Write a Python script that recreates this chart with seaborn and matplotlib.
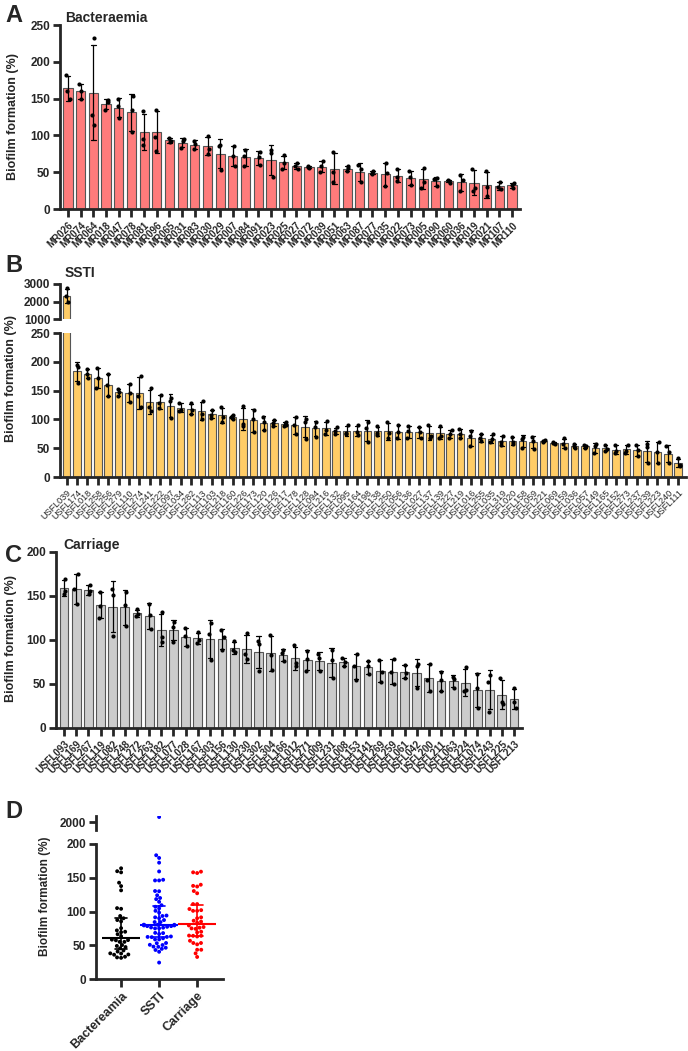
import numpy as np
import pandas as pd
import seaborn as sns
import matplotlib.pyplot as plt

sns.set_style("ticks")
plt.rcParams['font.family'] = ['Liberation Sans', 'DejaVu Sans']
plt.rcParams['font.weight'] = 'bold'
plt.rcParams['axes.labelweight'] = 'bold'

# ---- panel A: bacteraemia isolates, three replicates each
bact_names = ['MR026', 'MR074', 'MR064', 'MR018', 'MR047', 'MR078', 'MR081', 'MR096', 'MR065',
              'MR031', 'MR083', 'MR030', 'MR029', 'MR007', 'MR084', 'MR091', 'MR023', 'MR025',
              'MR027', 'MR072', 'MR039', 'MR051', 'MR063', 'MR087', 'MR077', 'MR035', 'MR022',
              'MR073', 'MR005', 'MR090', 'MR060', 'MR036', 'MR019', 'MR021', 'MR107', 'MR110']
bact_reps = [[182, 161, 149], [170, 160, 149], [232, 128, 114], [148, 145, 135], [149, 140, 124],
             [154, 135, 105], [133, 95, 87], [135, 98, 79], [97, 92, 91], [95, 92, 83],
             [93, 88, 81], [99, 82, 75], [87, 86, 53], [86, 72, 58], [80, 72, 58],
             [78, 70, 60], [80, 76, 43], [73, 62, 55], [62, 58, 55], [59, 57, 56],
             [65, 58, 50], [78, 50, 37], [58, 56, 51], [60, 54, 37], [51, 49, 47],
             [62, 49, 31], [55, 43, 38], [51, 44, 32], [56, 37, 29], [42, 41, 31],
             [39, 38, 36], [46, 39, 24], [55, 28, 25], [52, 30, 17], [37, 30, 27], [35, 33, 28]]

# ---- panel B: SSTI isolates
ssti_names = ['USFL039', 'USFL174', 'USFL018', 'USFL258', 'USFL256', 'USFL279', 'USFL110', 'USFL274',
              'USFL241', 'USFL222', 'USFL097', 'USFL034', 'USFL282', 'USFL113', 'USFL103', 'USFL218',
              'USFL160', 'USFL226', 'USFL173', 'USFL120', 'USFL126', 'USFL217', 'USFL178', 'USFL128',
              'USFL094', 'USFL216', 'USFL132', 'USFL095', 'USFL164', 'USFL198', 'USFL138', 'USFL250',
              'USFL056', 'USFL136', 'USFL027', 'USFL137', 'USFL139', 'USFL227', 'USFL219', 'USFL016',
              'USFL255', 'USFL035', 'USFL319', 'USFL020', 'USFL158', 'USFL059', 'USFL221', 'USFL069',
              'USFL159', 'USFL036', 'USFL057', 'USFL149', 'USFL165', 'USFL152', 'USFL273', 'USFL237',
              'USFL239', 'USFL223', 'USFL240', 'USFL111']
ssti_reps = [[2750, 2300, 1950], [195, 191, 164], [188, 178, 172], [190, 172, 155], [178, 160, 140],
             [153, 147, 141], [162, 146, 130], [176, 140, 122], [155, 121, 115], [143, 128, 119],
             [138, 132, 102], [129, 117, 114], [128, 117, 110], [132, 110, 101], [117, 108, 103],
             [121, 105, 95], [108, 105, 101], [123, 92, 88], [117, 100, 78], [105, 96, 81],
             [99, 93, 88], [95, 91, 88], [104, 91, 75], [100, 96, 66], [96, 87, 70],
             [97, 81, 75], [86, 80, 75], [90, 77, 74], [90, 78, 73], [96, 85, 60],
             [88, 77, 73], [95, 76, 67], [90, 78, 67], [89, 79, 67], [87, 78, 67],
             [90, 72, 67], [88, 72, 68], [82, 75, 68], [83, 74, 68], [80, 72, 53],
             [75, 67, 62], [74, 66, 60], [72, 60, 55], [70, 60, 57], [70, 66, 50],
             [70, 62, 49], [65, 63, 61], [60, 59, 57], [67, 58, 51], [57, 53, 50],
             [55, 53, 51], [58, 53, 41], [56, 49, 46], [56, 46, 41], [56, 46, 42],
             [55, 47, 37], [58, 52, 24], [61, 44, 24], [53, 44, 24], [33, 21, 19]]

# ---- panel C: carriage isolates
carr_names = ['USFL093', 'USFL169', 'USFL267', 'USFL119', 'USFL082', 'USFL248', 'USFL272', 'USFL263',
              'USFL182', 'USFL077', 'USFL028', 'USFL167', 'USFL303', 'USFL156', 'USFL130', 'USFL230',
              'USFL302', 'USFL304', 'USFL166', 'USFL012', 'USFL271', 'USFL009', 'USFL231', 'USFL008',
              'USFL153', 'USFL141', 'USFL269', 'USFL259', 'USFL061', 'USFL042', 'USFL200', 'USFL211',
              'USFL063', 'USFL224', 'USFL074', 'USFL243', 'USFL225', 'USFL213']
carr_reps = [[169, 156, 152], [175, 158, 141], [163, 156, 152], [155, 139, 125], [158, 151, 105],
             [155, 140, 116], [135, 129, 127], [141, 128, 112], [132, 103, 98], [120, 115, 98],
             [114, 104, 93], [109, 100, 97], [119, 107, 77], [111, 103, 89], [99, 89, 86],
             [108, 84, 78], [99, 95, 65], [106, 83, 66], [89, 85, 76], [94, 74, 70],
             [88, 78, 65], [84, 79, 65], [89, 77, 57], [80, 75, 70], [84, 71, 55],
             [76, 70, 61], [77, 64, 52], [78, 64, 50], [72, 63, 57], [73, 71, 45],
             [73, 55, 42], [64, 54, 42], [58, 56, 46], [69, 43, 42], [61, 46, 23],
             [60, 52, 18], [57, 30, 27], [45, 30, 23]]

group_labels = ['Bactereamia', 'SSTI', 'Carriage']
group_colors = ['black', '#0000FF', '#FF0000']


def long_df(names, reps):
    return pd.DataFrame({'isolate': np.repeat(names, [len(r) for r in reps]),
                         'value': np.concatenate(reps).astype(float)})


dfA = long_df(bact_names, bact_reps)
dfB = long_df(ssti_names, ssti_reps)
dfC = long_df(carr_names, carr_reps)

# panel D uses isolate means
dfD = pd.concat([
    dfA.groupby('isolate', sort=False)['value'].mean().reset_index().assign(group=group_labels[0]),
    dfB.groupby('isolate', sort=False)['value'].mean().reset_index().assign(group=group_labels[1]),
    dfC.groupby('isolate', sort=False)['value'].mean().reset_index().assign(group=group_labels[2]),
])

W, H = 688, 1051
fig = plt.figure(figsize=(W / 100, H / 100), dpi=100)


def px_axes(l, t, r, b):
    return fig.add_axes([l / W, 1 - b / H, (r - l) / W, (b - t) / H])


def style(ax):
    sns.despine(ax=ax)
    ax.spines['left'].set_linewidth(2)
    ax.spines['bottom'].set_linewidth(2)
    ax.tick_params(axis='y', width=2, length=5, labelsize=8.5, pad=2)
    ax.tick_params(axis='x', width=2, length=6, pad=2)
    ax.set_xlabel('')
    ax.set_ylabel('')
    for t in ax.get_yticklabels():
        t.set_fontweight('bold')


def bars(ax, df, names, color):
    sns.barplot(data=df, x='isolate', y='value', order=names, color=color, saturation=1,
                errorbar='sd', capsize=0.35, width=0.72, edgecolor='#555555', linewidth=0.8,
                err_kws={'color': 'black', 'linewidth': 0.9}, ax=ax)
    sns.stripplot(data=df, x='isolate', y='value', order=names, color='black', size=3,
                  jitter=0.15, ax=ax)


def xlabels(ax, names, size, weight):
    ax.set_xticks(range(len(names)))
    ax.set_xticklabels(names, rotation=45, ha='right', rotation_mode='anchor',
                       fontsize=size, fontweight=weight)


# A
axA = px_axes(60, 25, 520, 209)
bars(axA, dfA, bact_names, '#FF7B7B')
axA.set_ylim(0, 250)
axA.set_yticks(range(0, 251, 50))
axA.set_xlim(-0.63, len(bact_names) - 0.37)
style(axA)
xlabels(axA, bact_names, 7, 'bold')

# B (broken axis)
axBu = px_axes(60, 284, 686, 319)
axB = px_axes(60, 333, 686, 477)
bars(axBu, dfB, ssti_names, '#FFCC66')
bars(axB, dfB, ssti_names, '#FFCC66')
for ax in (axBu, axB):
    ax.set_xlim(-0.65, len(ssti_names) - 0.25)
axBu.set_ylim(1000, 3000)
axBu.set_yticks([1000, 2000, 3000])
axB.set_ylim(0, 250)
axB.set_yticks(range(0, 251, 50))
style(axBu)
style(axB)
axBu.spines['bottom'].set_visible(False)
axBu.tick_params(axis='x', bottom=False, labelbottom=False)
xlabels(axB, ssti_names, 6.5, 'normal')

# C
axC = px_axes(56, 552, 522, 728)
bars(axC, dfC, carr_names, '#CCCCCC')
axC.set_ylim(0, 200)
axC.set_yticks(range(0, 201, 50))
axC.set_xlim(-0.66, len(carr_names) - 0.34)
style(axC)
xlabels(axC, carr_names, 7, 'bold')

# D (broken axis)
axDu = px_axes(96, 816, 223, 830)
axD = px_axes(96, 844, 223, 979)
sns.swarmplot(data=dfD, x='group', y='value', hue='group', order=group_labels,
              hue_order=group_labels, palette=group_colors, size=2.8, legend=False, ax=axD)
sns.stripplot(data=dfD, x='group', y='value', hue='group', order=group_labels,
              hue_order=group_labels, palette=group_colors, size=2.8, jitter=False,
              legend=False, ax=axDu)
sns.pointplot(data=dfD, x='group', y='value', hue='group', order=group_labels,
              hue_order=group_labels, palette=group_colors, estimator='median',
              errorbar=('pi', 50), markers='_', linestyles='none', markersize=27,
              markeredgewidth=1.5, capsize=0.3, err_kws={'linewidth': 1.2},
              legend=False, ax=axD)
for ax in (axDu, axD):
    ax.set_xlim(-0.66, 2.68)
axD.set_ylim(0, 200)
axD.set_yticks(range(0, 201, 50))
axDu.set_ylim(1470, 2400)
axDu.set_yticks([2000])
style(axDu)
style(axD)
axDu.spines['bottom'].set_visible(False)
axDu.tick_params(axis='x', bottom=False, labelbottom=False)
xlabels(axD, group_labels, 9, 'bold')

# titles, panel letters and y labels
letter_kw = dict(fontsize=17, fontweight='bold', va='center', ha='left')
fig.text(5 / W, 1 - 15 / H, 'A', **letter_kw)
fig.text(5 / W, 1 - 265 / H, 'B', **letter_kw)
fig.text(5 / W, 1 - 556 / H, 'C', **letter_kw)
fig.text(5 / W, 1 - 812 / H, 'D', **letter_kw)

title_kw = dict(fontsize=10, fontweight='bold', va='center', ha='left')
fig.text(65 / W, 1 - 18 / H, 'Bacteraemia', **title_kw)
fig.text(65 / W, 1 - 273 / H, 'SSTI', **title_kw)
fig.text(63 / W, 1 - 545 / H, 'Carriage', **title_kw)

ylab_kw = dict(fontsize=9, fontweight='bold', rotation=90, va='center', ha='center')
fig.text(13 / W, 1 - 117 / H, 'Biofilm formation (%)', **ylab_kw)
fig.text(11 / W, 1 - 378 / H, 'Biofilm formation (%)', **ylab_kw)
fig.text(11 / W, 1 - 638 / H, 'Biofilm formation (%)', **ylab_kw)
fig.text(45 / W, 1 - 896 / H, 'Biofilm formation (%)', fontsize=8.5, fontweight='bold',
         rotation=90, va='center', ha='center')

fig.savefig('out.png', dpi=100)
